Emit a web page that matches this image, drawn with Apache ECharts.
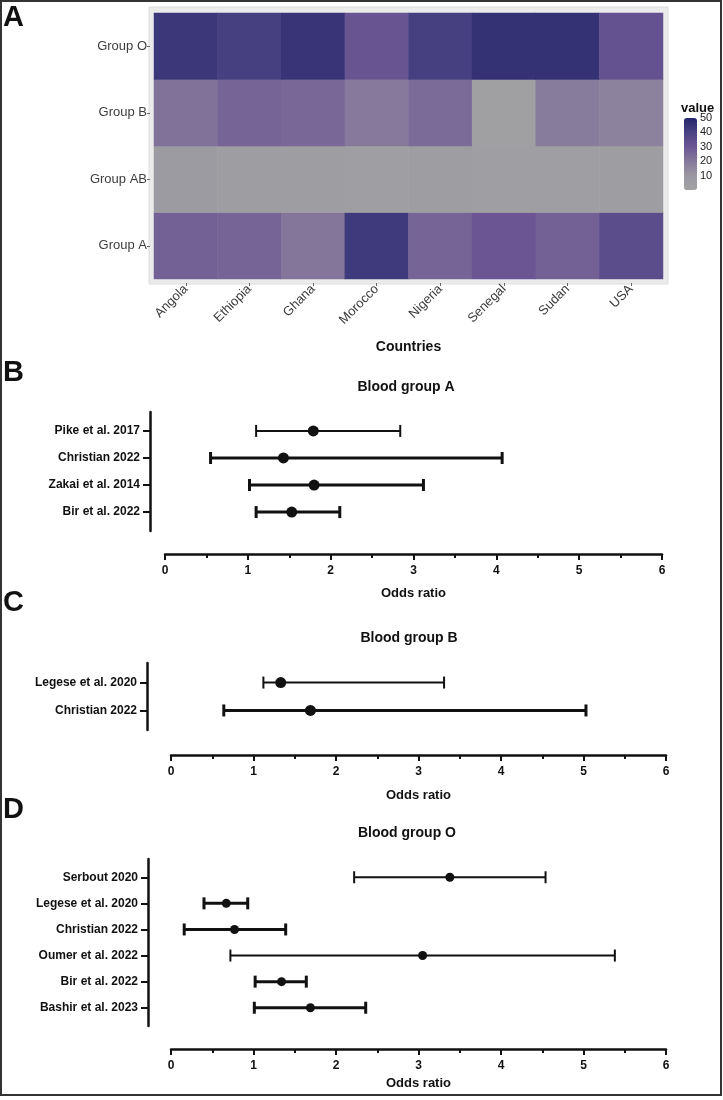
<!DOCTYPE html>
<html>
<head>
<meta charset="utf-8">
<title>Blood groups</title>
<script src="https://cdn.jsdelivr.net/npm/echarts@6.0.0/dist/echarts.min.js"></script>
<style>
  html, body { margin: 0; padding: 0; background: #fff; }
  #chart { width: 723px; height: 1100px; }
</style>
</head>
<body>
<div id="chart"></div>
<script>
// panel A: share (%) of each blood group by country
var countries = ['Angola', 'Ethiopia', 'Ghana', 'Morocco', 'Nigeria', 'Senegal', 'Sudan', 'USA'];
var groups = ['Group A', 'Group AB', 'Group B', 'Group O'];
var groupA = [27, 26, 21, 43, 26, 30, 27, 35];
var groupAB = [6, 5, 5, 4, 5, 4, 4, 5];
var groupB = [22, 26, 25, 20, 24, 3, 19, 17];
var groupO = [44, 41, 45, 31, 41, 46, 46, 32];
var legendTicks = [0, 50];

// panels B-D: odds ratio with 95% CI
var studiesA = ['Pike et al. 2017', 'Christian 2022', 'Zakai et al. 2014', 'Bir et al. 2022'];
var orA = [1.79, 1.43, 1.80, 1.53];
var loA = [1.10, 0.55, 1.02, 1.10];
var hiA = [2.84, 4.07, 3.12, 2.11];

var studiesB = ['Legese et al. 2020', 'Christian 2022'];
var orB = [1.33, 1.69];
var loB = [1.12, 0.64];
var hiB = [3.31, 5.03];

var studiesO = ['Serbout 2020', 'Legese et al. 2020', 'Christian 2022', 'Oumer et al. 2022', 'Bir et al. 2022', 'Bashir et al. 2023'];
var orO = [3.38, 0.67, 0.77, 3.05, 1.34, 1.69];
var loO = [2.22, 0.40, 0.16, 0.72, 1.02, 1.01];
var hiO = [4.54, 0.93, 1.39, 5.38, 1.64, 2.36];

var oddsTicks = [0, 6];
var nullValue = 1;

// styling
var weightA = [2, 3, 3, 3];
var weightB = [2, 3];
var weightO = [2, 3, 3, 2, 3, 3];
var ink = '#111';
var narrow = "'Liberation Sans Narrow', 'Arial Narrow', 'Liberation Sans', Arial, sans-serif";
var sans = "'Liberation Sans', Arial, sans-serif";
var pad = 0.7;

var chart = echarts.init(document.getElementById('chart'), null, { renderer: 'canvas' });

var heatData = [];
[groupA, groupAB, groupB, groupO].forEach(function(row, yi) {
  row.forEach(function(v, xi) {
    heatData.push([xi, yi, v]);
  });
});

var grids = [
  { left: 154, right: 60, top: 13, height: 266 },
  { left: 165, right: 61, top: 412, height: 119 },
  { left: 171, right: 57, top: 663, height: 67 },
  { left: 171, right: 57, top: 859, height: 167 },
  { left: 684, top: 118, width: 13, height: 72 }
];

function forestX(gi, offset, nameGap) {
  return {
    type: 'value', gridIndex: gi, min: oddsTicks[0], max: oddsTicks[1], interval: 1, offset: offset,
    axisLine: { show: true, onZero: false, lineStyle: { color: ink, width: 2.5 } },
    axisTick: { show: true, length: 6, lineStyle: { color: ink, width: 2 } },
    minorTick: { show: true, splitNumber: 2, length: 4, lineStyle: { color: ink, width: 2 } },
    splitLine: { show: false },
    axisLabel: { margin: 11, color: ink, fontFamily: narrow, fontWeight: 'bold', fontSize: 12 },
    name: 'Odds ratio', nameLocation: 'middle', nameGap: nameGap,
    nameTextStyle: { color: ink, fontFamily: narrow, fontWeight: 'bold', fontSize: 13 }
  };
}

function forestY(gi, studies, offset) {
  var idx = studies.map(function(s, i) { return i; });
  return {
    type: 'value', gridIndex: gi, inverse: true, min: -pad, max: studies.length - 1 + pad, offset: offset,
    axisLine: { show: true, onZero: false, lineStyle: { color: ink, width: 2.5 } },
    axisTick: { show: true, customValues: idx, length: 7, lineStyle: { color: ink, width: 2 } },
    splitLine: { show: false },
    axisLabel: {
      customValues: idx, margin: 10, color: ink, fontFamily: narrow, fontWeight: 'bold', fontSize: 12,
      formatter: function(v) { return studies[v]; }
    }
  };
}

function ciSeries(gi, lo, hi, weights) {
  return {
    type: 'custom', xAxisIndex: gi, yAxisIndex: gi,
    encode: { x: [0, 1], y: 2 },
    data: lo.map(function(l, i) { return [l, hi[i], i]; }),
    renderItem: function(params, api) {
      var y = api.value(2);
      var a = api.coord([api.value(0), y]);
      var b = api.coord([api.value(1), y]);
      var w = weights[params.dataIndex];
      var h = 6;
      var st = { stroke: ink, lineWidth: w };
      return {
        type: 'group',
        children: [
          { type: 'line', shape: { x1: a[0], y1: a[1], x2: b[0], y2: b[1] }, style: st },
          { type: 'line', shape: { x1: a[0], y1: a[1] - h, x2: a[0], y2: a[1] + h }, style: st },
          { type: 'line', shape: { x1: b[0], y1: b[1] - h, x2: b[0], y2: b[1] + h }, style: st }
        ]
      };
    }
  };
}

function pointSeries(gi, or, size, n, xOffset, step) {
  return {
    type: 'scatter', xAxisIndex: gi, yAxisIndex: gi, symbolSize: size, z: 3,
    itemStyle: { color: ink, opacity: 1 },
    data: or.map(function(v, i) { return [v, i]; }),
    markLine: {
      silent: true, symbol: 'none', animation: false,
      label: { show: false },
      lineStyle: { type: [2, 2], color: ink, width: 1.2 },
      data: [[{ coord: [nullValue, -pad] }, { coord: [nullValue, n - 1 + pad + xOffset / step] }]]
    }
  };
}

function text(x, y, str, font, align) {
  return {
    type: 'text', x: x, y: y, z: 10,
    style: { text: str, font: font, fill: ink, align: align || 'left', verticalAlign: 'middle' }
  };
}

var option = {
  animation: false,
  backgroundColor: '#fff',
  grid: grids,
  xAxis: [
    {
      type: 'category', gridIndex: 0, data: countries, offset: 4,
      axisLine: { show: false },
      axisTick: { show: true, alignWithLabel: true, length: 3, lineStyle: { color: '#666' } },
      axisLabel: { rotate: 45, margin: 4, color: '#3d3d3d', fontFamily: sans, fontSize: 13 },
      name: 'Countries', nameLocation: 'middle', nameGap: 57,
      nameTextStyle: { color: ink, fontFamily: sans, fontWeight: 'bold', fontSize: 14 }
    },
    forestX(1, 23, 33),
    forestX(2, 25, 34),
    forestX(3, 23, 28),
    { type: 'value', gridIndex: 4, min: 0, max: 1, show: false }
  ],
  yAxis: [
    {
      type: 'category', gridIndex: 0, data: groups, offset: 4,
      axisLine: { show: false },
      axisTick: { show: true, alignWithLabel: true, length: 3, lineStyle: { color: '#666' } },
      axisLabel: { margin: 3, color: '#3d3d3d', fontFamily: sans, fontSize: 13 }
    },
    forestY(1, studiesA, 15),
    forestY(2, studiesB, 24),
    forestY(3, studiesO, 23),
    {
      type: 'value', gridIndex: 4, min: legendTicks[0], max: legendTicks[1], interval: 10, position: 'right',
      axisLine: { show: false },
      axisTick: { show: true, inside: true, length: 3, lineStyle: { color: '#fff' } },
      splitLine: { show: false },
      axisLabel: { showMinLabel: false, margin: 3, color: '#222', fontFamily: sans, fontSize: 11 }
    }
  ],
  visualMap: {
    type: 'continuous', min: legendTicks[0], max: legendTicks[1], seriesIndex: 0,
    left: 684, top: 118, itemWidth: 13, itemHeight: 72, padding: 0,
    calculable: false, hoverLink: false,
    inRange: { color: ['#a2a2a2', '#9a97a2', '#86799b', '#6b5693', '#4a4282', '#26266c'] }
  },
  graphic: [
    { type: 'rect', z: -1, shape: { x: 149, y: 7, width: 519, height: 277 }, style: { fill: '#ebebeb', stroke: '#dedede', lineWidth: 1 } },
    { type: 'rect', z: 10, shape: { x: 1, y: 1, width: 720, height: 1094 }, style: { fill: 'none', stroke: '#333', lineWidth: 2 } },
    text(3, 18, 'A', 'bold 29px ' + sans),
    text(3, 373, 'B', 'bold 29px ' + sans),
    text(3, 603, 'C', 'bold 29px ' + sans),
    text(3, 810, 'D', 'bold 29px ' + sans),
    text(406, 387, 'Blood group A', 'bold 14px ' + sans, 'center'),
    text(409, 638, 'Blood group B', 'bold 14px ' + sans, 'center'),
    text(407, 833, 'Blood group O', 'bold 14px ' + sans, 'center'),
    text(681, 108, 'value', 'bold 13px ' + sans)
  ],
  series: [
    {
      type: 'heatmap', xAxisIndex: 0, yAxisIndex: 0, data: heatData,
      itemStyle: { borderWidth: 0 }
    },
    ciSeries(1, loA, hiA, weightA),
    pointSeries(1, orA, 11, studiesA.length, 23, 27),
    ciSeries(2, loB, hiB, weightB),
    pointSeries(2, orB, 11, studiesB.length, 25, 28),
    ciSeries(3, loO, hiO, weightO),
    pointSeries(3, orO, 9, studiesO.length, 23, 26.2),
    { type: 'line', xAxisIndex: 4, yAxisIndex: 4, data: [] }
  ]
};

chart.setOption(option);
</script>
</body>
</html>
